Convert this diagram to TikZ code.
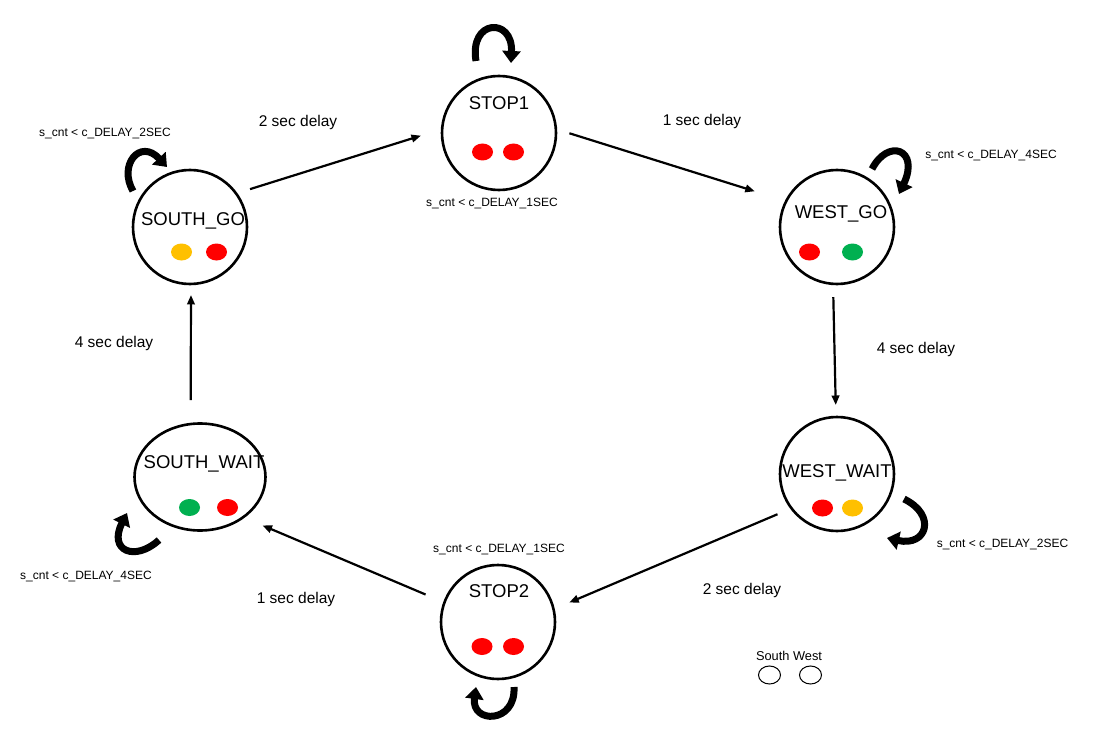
\documentclass[tikz,border=0pt]{standalone}
\usepackage{fontspec}
\setmainfont{Liberation Sans}
\usetikzlibrary{arrows.meta,shapes.geometric}
\definecolor{lred}{HTML}{FF0000}
\definecolor{lamber}{HTML}{FFC000}
\definecolor{lgreen}{HTML}{00B050}
\begin{document}
\begin{tikzpicture}[x=1pt,y=-1pt,
  state/.style={circle,draw,line width=2.6pt,minimum size=114pt,inner sep=0pt,outer sep=0pt},
  sname/.style={anchor=base,font=\fontsize{18.5}{20}\selectfont,inner sep=0pt},
  elab/.style={anchor=base,font=\fontsize{15.5}{17}\selectfont,inner sep=0pt},
  clab/.style={anchor=base,font=\fontsize{12}{14}\selectfont,inner sep=0pt},
  lamp/.style={ellipse,minimum width=21pt,minimum height=17pt,inner sep=0pt},
  legend/.style={ellipse,draw,line width=1pt,minimum width=22pt,minimum height=18pt,inner sep=0pt},
  trans/.style={line width=2.2pt,-{Triangle[length=9.5pt,width=7.5pt]}},
  selfloop/.style={line width=7pt,-{Triangle[length=12pt,width=18pt]}},
]
\useasboundingbox (0,0) rectangle (1098,749);

% states
\node[state] (S1) at (499,133) {};
\node[state] (SG) at (190,227) {};
\node[state] (WG) at (837,227) {};
\node[state] (WW) at (837,474) {};
\node[ellipse,draw,line width=2.6pt,minimum width=131pt,minimum height=107pt,inner sep=0pt,outer sep=0pt] (SW) at (200,477) {};
\node[state] (S2) at (498,622) {};

% state names
\node[sname] (S1n) at (499,110) {STOP1};
\node[sname] (SGn) at (193,225) {SOUTH\_GO};
\node[sname] (WGn) at (841,218) {WEST\_GO};
\node[sname] (WWn) at (837,477) {WEST\_WAIT};
\node[sname] (SWn) at (204,468) {SOUTH\_WAIT};
\node[sname] (S2n) at (499,597) {STOP2};

% lamps
\node[lamp,fill=lred] (S1a) at (482.5,152) {};
\node[lamp,fill=lred] (S1b) at (513.5,152) {};
\node[lamp,fill=lamber] (SGa) at (181.5,252) {};
\node[lamp,fill=lred] (SGb) at (216.5,252) {};
\node[lamp,fill=lred] (WGa) at (809.5,252) {};
\node[lamp,fill=lgreen] (WGb) at (852.5,252) {};
\node[lamp,fill=lred] (WWa) at (822.5,508) {};
\node[lamp,fill=lamber] (WWb) at (852.5,508) {};
\node[lamp,fill=lgreen] (SWa) at (189.5,507.5) {};
\node[lamp,fill=lred] (SWb) at (227.5,507.5) {};
\node[lamp,fill=lred] (S2a) at (482,646.5) {};
\node[lamp,fill=lred] (S2b) at (513.5,646.5) {};

% transitions
\draw[trans,shorten <=14.6pt,shorten >=22.2pt] (SG.36) -- (S1.176);
\draw[trans,shorten <=14.2pt,shorten >=32.9pt] (S1.4) -- (WG.153);
\draw[trans,shorten <=13.2pt,shorten >=12pt] (WG.266) -- (WW.91);
\draw[trans,shorten <=15.2pt,shorten >=17pt] (WW.217) -- (S2.13);
\draw[trans,shorten <=20.5pt,shorten >=21pt] (S2.160) -- (SW.-43.5);
\draw[trans,shorten <=24pt,shorten >=11pt] (SW.100) -- (SG.271);

% transition labels
\node[elab] (e1) at (298,127) {2 sec delay};
\node[elab] (e2) at (702,126) {1 sec delay};
\node[elab] (e3) at (916,353) {4 sec delay};
\node[elab] (e4) at (742,594) {2 sec delay};
\node[elab] (e5) at (296,603) {1 sec delay};
\node[elab] (e6) at (114,347) {4 sec delay};

% self loops
\draw[selfloop] ([shift={(-23,-72)}]S1.center) .. controls ([shift={(-30,-114)}]S1.center) and ([shift={(14,-116)}]S1.center) .. ([shift={(12,-70)}]S1.center);
\draw[selfloop] ([shift={(-57,-36)}]SG.center) .. controls ([shift={(-72,-62)}]SG.center) and ([shift={(-50,-89)}]SG.center) .. ([shift={(-23,-60)}]SG.center);
\draw[selfloop] ([shift={(35,-58)}]WG.center) .. controls ([shift={(51,-89)}]WG.center) and ([shift={(83,-78)}]WG.center) .. ([shift={(62,-33)}]WG.center);
\draw[selfloop] ([shift={(67,25)}]WW.center) .. controls ([shift={(100,41)}]WW.center) and ([shift={(90,73)}]WW.center) .. ([shift={(50,64)}]WW.center);
\draw[selfloop] ([shift={(-41,63)}]SW.center) .. controls ([shift={(-65,85)}]SW.center) and ([shift={(-92,74)}]SW.center) .. ([shift={(-73,36)}]SW.center);
\draw[selfloop] ([shift={(16,65)}]S2.center) .. controls ([shift={(18,102)}]S2.center) and ([shift={(-27,102)}]S2.center) .. ([shift={(-22,65)}]S2.center);

% loop conditions
\node[clab] (c1) at (105,137) {s\_cnt < c\_DELAY\_2SEC};
\node[clab] (c2) at (492,207) {s\_cnt < c\_DELAY\_1SEC};
\node[clab] (c3) at (991,159) {s\_cnt < c\_DELAY\_4SEC};
\node[clab] (c4) at (1002.5,547) {s\_cnt < c\_DELAY\_2SEC};
\node[clab] (c5) at (499,552) {s\_cnt < c\_DELAY\_1SEC};
\node[clab] (c6) at (86,579) {s\_cnt < c\_DELAY\_4SEC};

% legend
\node[clab,font=\fontsize{12.8}{14}\selectfont] (lg) at (789,660) {South West};
\node[legend] (lgS) at (769.5,675) {};
\node[legend] (lgW) at (810.5,675) {};
\end{tikzpicture}
\end{document}
